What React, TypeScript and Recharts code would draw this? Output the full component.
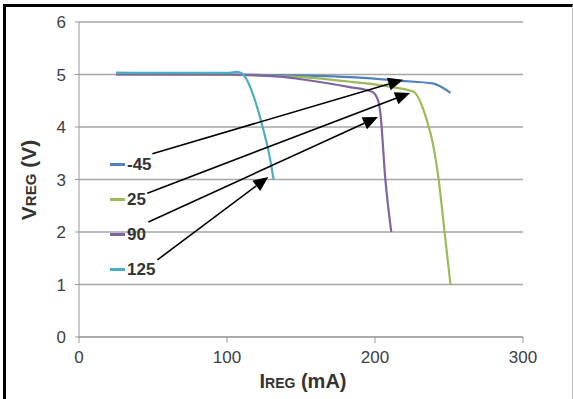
import React from 'react';
import { LineChart, Line, XAxis, YAxis, CartesianGrid, ReferenceLine } from 'recharts';

// IREG (mA) vs VREG (V) per temperature
const minus45 = [
  { x: 25, y: 5.03 }, { x: 50, y: 5.02 }, { x: 100, y: 5.0 }, { x: 150, y: 4.98 },
  { x: 195, y: 4.93 }, { x: 217, y: 4.88 }, { x: 239, y: 4.83 }, { x: 251, y: 4.65 },
];
const plus25 = [
  { x: 25, y: 5.0 }, { x: 100, y: 4.99 }, { x: 150, y: 4.95 }, { x: 184, y: 4.86 },
  { x: 212, y: 4.76 }, { x: 226, y: 4.67 }, { x: 235, y: 4.13 }, { x: 239, y: 3.7 },
  { x: 243, y: 3.0 }, { x: 247, y: 2.0 }, { x: 251, y: 1.0 },
];
const plus90 = [
  { x: 25, y: 5.0 }, { x: 100, y: 5.0 }, { x: 136, y: 4.96 }, { x: 150, y: 4.91 },
  { x: 183, y: 4.76 }, { x: 198, y: 4.67 }, { x: 202, y: 4.51 }, { x: 203.6, y: 4.27 },
  { x: 207, y: 3.0 }, { x: 211, y: 2.0 },
];
const plus125 = [
  { x: 25, y: 5.03 }, { x: 100, y: 5.03 }, { x: 104, y: 5.04 }, { x: 107, y: 5.05 },
  { x: 110, y: 5.02 }, { x: 113, y: 4.92 }, { x: 116, y: 4.74 }, { x: 119, y: 4.5 },
  { x: 122, y: 4.22 }, { x: 125, y: 3.9 }, { x: 128, y: 3.55 }, { x: 130, y: 3.25 },
  { x: 131.5, y: 3.0 },
];

const xTicks = [0, 100, 200, 300];
const yTicks = [0, 1, 2, 3, 4, 5, 6];

const series = [
  { name: '-45', data: minus45, color: '#4f81bd' },
  { name: '25', data: plus25, color: '#9bbb59' },
  { name: '90', data: plus90, color: '#8064a2' },
  { name: '125', data: plus125, color: '#4bacc6' },
];

// callout arrows, from label to curve (data coordinates)
const arrows = [
  { from: { x: 49.6, y: 3.49 }, to: { x: 219, y: 4.9 } },
  { from: { x: 46.2, y: 2.74 }, to: { x: 223.7, y: 4.65 } },
  { from: { x: 46.9, y: 2.19 }, to: { x: 202, y: 4.19 } },
  { from: { x: 53, y: 1.47 }, to: { x: 127.9, y: 3.05 } },
];

const SANS = '"Liberation Sans", Arial, sans-serif';

const ArrowShape = (props: any) => {
  const { x1, y1, x2, y2 } = props;
  if ([x1, y1, x2, y2].some((v) => v == null || isNaN(v))) return null;
  const ang = Math.atan2(y2 - y1, x2 - x1);
  const len = 15;
  const half = 6.5;
  const bx = x2 - len * Math.cos(ang);
  const by = y2 - len * Math.sin(ang);
  const px = -Math.sin(ang) * half;
  const py = Math.cos(ang) * half;
  return (
    <g>
      <line x1={x1} y1={y1} x2={bx} y2={by} stroke="#000" strokeWidth={1.6} />
      <polygon points={`${x2},${y2} ${bx + px},${by + py} ${bx - px},${by - py}`} fill="#000" />
    </g>
  );
};

const XLabel = ({ viewBox }: any) => (
  <text
    x={viewBox.x + viewBox.width / 2 + 2}
    y={388}
    textAnchor="middle"
    fontFamily={SANS}
    fontWeight="bold"
    fill="#333"
  >
    <tspan fontSize={20}>I</tspan>
    <tspan fontSize={14}>REG</tspan>
    <tspan fontSize={20}> (mA)</tspan>
  </text>
);

const YLabel = () => (
  <text
    x={0}
    y={0}
    transform="translate(36,180) rotate(-90)"
    textAnchor="middle"
    fontFamily={SANS}
    fontWeight="bold"
    fill="#333"
  >
    <tspan fontSize={21}>V</tspan>
    <tspan fontSize={15}>REG</tspan>
    <tspan fontSize={21}> (V)</tspan>
  </text>
);

export default function App() {
  return (
    <div style={{ position: 'absolute', left: 0, top: 0, width: 573, height: 399, background: '#fff' }}>
      <LineChart width={573} height={399} margin={{ top: 22, right: 50, left: 0, bottom: 0 }}>
        <CartesianGrid vertical={false} stroke="#a6a6a6" strokeWidth={1.3} />
        <XAxis
          type="number"
          dataKey="x"
          domain={[0, 300]}
          ticks={xTicks}
          height={62}
          tickSize={6}
          tickMargin={8}
          stroke="#999"
          tick={{ fill: '#404040', fontSize: 17, fontFamily: SANS }}
          label={<XLabel />}
        />
        <YAxis
          type="number"
          dataKey="y"
          domain={[0, 6]}
          ticks={yTicks}
          width={79}
          tickSize={4}
          tickMargin={9}
          stroke="#999"
          tick={{ fill: '#404040', fontSize: 17, fontFamily: SANS }}
          label={<YLabel />}
        />
        {series.map((s) => (
          <Line
            key={s.name}
            data={s.data}
            dataKey="y"
            name={s.name}
            type="monotone"
            stroke={s.color}
            strokeWidth={2.2}
            dot={false}
            isAnimationActive={false}
          />
        ))}
        {arrows.map((a, i) => (
          <ReferenceLine key={i} segment={[a.from, a.to]} ifOverflow="visible" shape={ArrowShape} />
        ))}
      </LineChart>

      {/* legend inside the plot, left side */}
      <div style={{ position: 'absolute', left: 110, top: 147, fontFamily: SANS, fontWeight: 'bold', fontSize: 17, color: '#333' }}>
        {series.map((s) => (
          <div key={s.name} style={{ display: 'flex', alignItems: 'center', height: 35 }}>
            <div style={{ width: 15, height: 2.5, background: s.color, marginRight: 2 }} />
            <span>{s.name}</span>
          </div>
        ))}
      </div>

      {/* frame */}
      <div
        style={{
          position: 'absolute',
          left: 3,
          top: 4,
          width: 566,
          height: 399,
          borderTop: '3px solid #000',
          borderLeft: '3px solid #000',
          borderRight: '1px solid #bbb',
          pointerEvents: 'none',
        }}
      />
    </div>
  );
}
